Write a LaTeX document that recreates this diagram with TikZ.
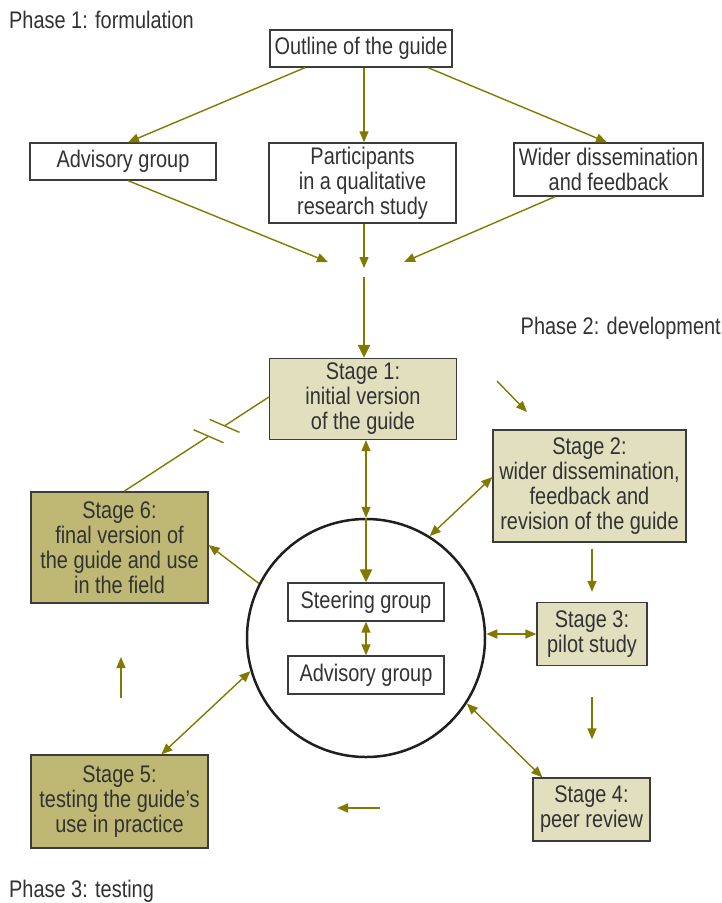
\documentclass[tikz,border=0pt]{standalone}
\usepackage{fontspec}
\setmainfont{Liberation Sans}[FakeStretch=0.83]
\usetikzlibrary{arrows.meta,calc}
\definecolor{arrowc}{RGB}{130,122,0}
\definecolor{lightf}{RGB}{226,223,191}
\definecolor{darkf}{RGB}{191,184,116}
\definecolor{txt}{RGB}{50,50,50}
\definecolor{edgec}{RGB}{60,60,60}
\begin{document}
\begin{tikzpicture}[x=1pt,y=-1pt,
  box/.style={draw=edgec, line width=1.3pt, align=center, inner sep=0pt, text=txt,
    font=\fontsize{24}{25}\selectfont},
  lightbox/.style={box, fill=lightf},
  darkbox/.style={box, fill=darkf},
  lbl/.style={inner sep=0pt, text=txt, font=\fontsize{24}{25}\selectfont},
  arr/.style={draw=arrowc, line width=1.4pt, -{Triangle[length=11pt,width=9pt]}},
  darr/.style={draw=arrowc, line width=1.4pt, {Triangle[length=11pt,width=9pt]}-{Triangle[length=11pt,width=9pt]}},
  tarr/.style={draw=arrowc, line width=2.6pt, -{Triangle[length=13pt,width=12pt]}},
  thinl/.style={draw=arrowc, line width=1.4pt}
]
\useasboundingbox (0,0) rectangle (722,903);

% labels
\node[lbl, anchor=west] (ph1) at (9,20) {Phase 1: formulation};
\node[lbl, anchor=east] (ph2) at (721,328) {Phase 2: development};
\node[lbl, anchor=west] (ph3) at (9,891) {Phase 3: testing};

% phase 1 boxes
\node[box, minimum width=182pt, minimum height=37pt] (outline) at (361,48.5) {Outline of the guide};
\node[box, minimum width=186pt, minimum height=37pt] (advT) at (123,161.5) {Advisory group};
\node[box, minimum width=187pt, minimum height=80pt] (part) at (362.5,183) {Participants\\in a qualitative\\research study};
\node[box, minimum width=189pt, minimum height=53pt] (wider) at (608.5,169.5) {Wider dissemination\\and feedback};

% stages
\node[lightbox, minimum width=187pt, minimum height=81pt] (stage1) at (363,399) {Stage 1:\\initial version\\of the guide};
\node[lightbox, minimum width=193pt, minimum height=112pt] (stage2) at (589.5,486) {Stage 2:\\wider dissemination,\\feedback and\\revision of the guide};
\node[darkbox, minimum width=177pt, minimum height=111pt] (stage6) at (119.5,547.5) {Stage 6:\\final version of\\the guide and use\\in the field};
\node[lightbox, minimum width=110pt, minimum height=63pt] (stage3) at (592,634) {Stage 3:\\pilot study};
\node[lightbox, minimum width=117pt, minimum height=63pt] (stage4) at (591.5,809.5) {Stage 4:\\peer review};
\node[darkbox, minimum width=177pt, minimum height=93pt] (stage5) at (119.5,801.5) {Stage 5:\\testing the guide’s\\use in practice};

% circle
\node[circle, draw=black!88, line width=2.5pt, minimum size=238pt, inner sep=0pt] (circ) at (366,638) {};
\node[box, minimum width=156pt, minimum height=38pt] (steer) at (366,602) {Steering group};
\node[box, minimum width=156pt, minimum height=38pt] (advI) at (366,675) {Advisory group};

% coordinates for free ends
\coordinate (cL) at (328,262);
\coordinate (cM) at (364,268);
\coordinate (cR) at (404,262);
\coordinate (cS) at (364,277);
\coordinate (g1a) at (497,381);
\coordinate (g1b) at (527,412);
\coordinate (g4a) at (380,808);
\coordinate (g4b) at (337,808);
\coordinate (g5a) at (121,698);
\coordinate (g5b) at (121,657);

% phase 1 arrows
\draw[arr] ([xshift=-56pt]outline.south) -- ([xshift=5pt]advT.north);
\draw[arr] ([xshift=3pt]outline.south) -- ([xshift=3pt]outline.south |- part.north);
\draw[arr] ([xshift=67pt]outline.south) -- ([xshift=-1.5pt]wider.north);
\draw[arr] ([xshift=5pt]advT.south) -- (cL);
\draw[arr] ([xshift=1.5pt]part.south) -- (cM);
\draw[arr] ([xshift=-53.5pt]wider.south) -- (cR);
\draw[tarr] (cS) -- (cS |- stage1.north);

% cycle arrows
\draw[arr] (g1a) -- (g1b);
\draw[darr] (stage1.south -| circ.north) -- (circ.north);
\draw[tarr] (circ.north) -- (steer.north);
\draw[darr] (steer.south) -- (advI.north);
\draw[darr] (circ.58) -- ([yshift=9pt]stage2.west);
\draw[arr] ([yshift=-6pt]stage2.south -| stage3.north) -- ([yshift=10pt]stage3.north);
\draw[darr] (stage3.west -| circ.east) -- (stage3.west);
\draw[arr] ([yshift=-31pt]stage3.south) -- ([yshift=38pt]stage3.south |- stage4.north);
\draw[darr] (circ.-33) -- ([xshift=10pt]stage4.north west);
\draw[arr] (g4a) -- (g4b);
\draw[darr] ([xshift=131pt]stage5.north west) -- (circ.196);
\draw[arr] (g5a) -- (g5b);
\draw[arr] (circ.153) -- ([yshift=2.5pt]stage6.east);

% broken line stage 1 -- stage 6
\coordinate (bA) at ([yshift=2pt]stage1.west);
\coordinate (bB) at ([xshift=4.5pt]stage6.north);
\coordinate (m1) at ($(bA)!0.306!(bB)$);
\coordinate (m2) at ($(bA)!0.416!(bB)$);
\draw[thinl] (bA) -- (m1);
\draw[thinl] (m2) -- (bB);
\draw[thinl] (m1) ++(-15,-6.5) -- ++(30,13);
\draw[thinl] (m2) ++(-15,-6.5) -- ++(30,13);
\end{tikzpicture}
\end{document}
